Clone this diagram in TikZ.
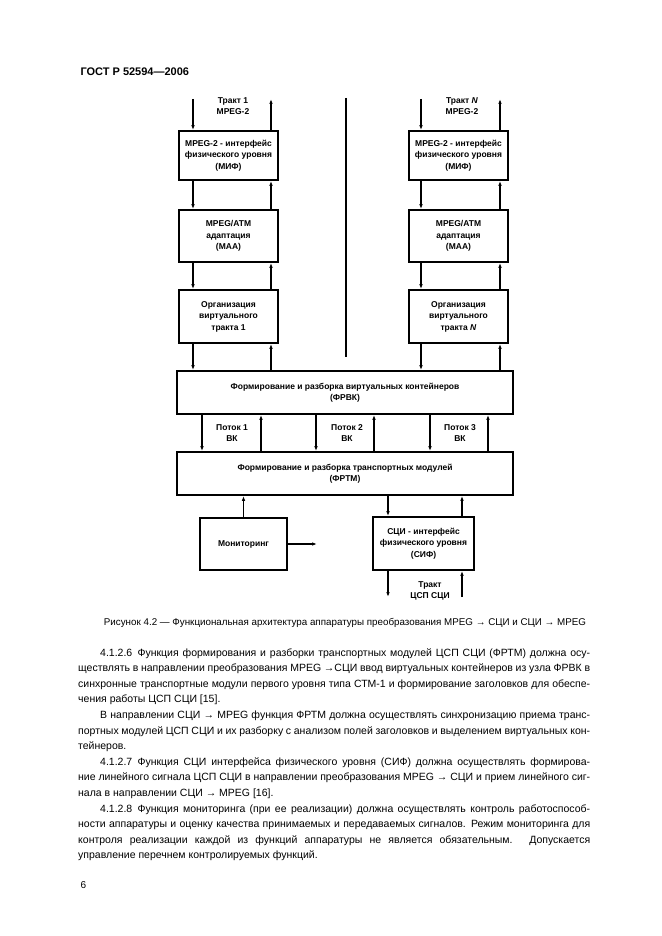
\documentclass[tikz,border=0pt]{standalone}
\usepackage{fontspec}
\setmainfont{Liberation Sans}
\usetikzlibrary{arrows.meta}

\tikzset{
  blok/.style={draw, line width=1.8pt, align=center, inner sep=1pt,
    font=\fontsize{8.5}{11.5}\selectfont\bfseries},
  arr/.style={line width=1.1pt, -{Latex[length=5pt,width=3.6pt]}},
  lbl/.style={align=center, inner sep=0pt, font=\fontsize{8.5}{11}\selectfont\bfseries},
}

\begin{document}
\begin{tikzpicture}[x=1pt,y=-1pt]
\useasboundingbox[fill=white] (0,0) rectangle (661,936);

\node[anchor=west, font=\fontsize{11}{13}\selectfont\bfseries] (header) at (77,72) {ГОСТ Р 52594—2006};

% columns
\node[blok, minimum width=99pt, minimum height=49pt] (mifA) at (228.5,155.5) {MPEG-2 - интерфейс\\физического уровня\\(МИФ)};
\node[blok, minimum width=99pt, minimum height=52pt] (maaA) at (228.5,236) {MPEG/ATM\\адаптация\\(МАА)};
\node[blok, minimum width=99pt, minimum height=53pt] (orgA) at (228.5,316.5) {Организация\\виртуального\\тракта 1};
\node[blok, minimum width=99pt, minimum height=49pt] (mifN) at (458.5,155.5) {MPEG-2 - интерфейс\\физического уровня\\(МИФ)};
\node[blok, minimum width=99pt, minimum height=52pt] (maaN) at (458.5,236) {MPEG/ATM\\адаптация\\(МАА)};
\node[blok, minimum width=99pt, minimum height=53pt] (orgN) at (458.5,316.5) {Организация\\виртуального\\тракта \textit{N}};

\node[lbl] (traktA) at (233,106.5) {Тракт 1\\MPEG-2};
\node[lbl] (traktN) at (462,106.5) {Тракт \textit{N}\\MPEG-2};

\node[blok, minimum width=336pt, minimum height=43pt] (frvk) at (345,392.5) {Формирование и разборка виртуальных контейнеров\\(ФРВК)};
\node[blok, minimum width=336pt, minimum height=43pt] (frtm) at (345,473.5) {Формирование и разборка транспортных модулей\\(ФРТМ)};
\node[blok, minimum width=87pt, minimum height=52pt] (monitor) at (243.5,544) {Мониторинг};
\node[blok, minimum width=101pt, minimum height=53pt] (sif) at (423.5,543.5) {СЦИ - интерфейс\\физического уровня\\(СИФ)};

\coordinate (dA) at (193,0);
\coordinate (uA) at (271,0);
\coordinate (dN) at (421,0);
\coordinate (uN) at (500,0);
\coordinate (top) at (0,99);

\foreach \c in {A,N}{
  \draw[arr] (d\c |- top) -- (d\c |- mif\c.north);
  \draw[arr] (u\c |- mif\c.north) -- (u\c |- top);
  \draw[arr] (d\c |- mif\c.south) -- (d\c |- maa\c.north);
  \draw[arr] (u\c |- maa\c.north) -- (u\c |- mif\c.south);
  \draw[arr] (d\c |- maa\c.south) -- (d\c |- org\c.north);
  \draw[arr] (u\c |- org\c.north) -- (u\c |- maa\c.south);
  \draw[arr] (d\c |- org\c.south) -- (d\c |- frvk.north);
  \draw[arr] (u\c |- frvk.north) -- (u\c |- org\c.south);
}

\coordinate (midtop) at (346,98);
\coordinate (midbot) at (346,357);
\draw[line width=1.8pt] (midtop) -- (midbot);

% streams
\foreach \d/\u/\n/\k in {202/261/232/1, 316/374/347/2, 430/488/460/3}{
  \coordinate (pd\k) at (\d,0);
  \coordinate (pu\k) at (\u,0);
  \draw[arr] (pd\k |- frvk.south) -- (pd\k |- frtm.north);
  \draw[arr] (pu\k |- frtm.north) -- (pu\k |- frvk.south);
  \node[lbl] (potok\k) at (\n,433) {Поток \k\\ВК};
}

\coordinate (sd) at (388,0);
\coordinate (su) at (462,0);
\coordinate (bot) at (0,597);
\draw[arr] (monitor.north) -- (monitor.north |- frtm.south);
\draw[arr, line width=1.6pt] (sd |- frtm.south) -- (sd |- sif.north);
\draw[arr] (su |- sif.north) -- (su |- frtm.south);
\coordinate (monout) at (317,544);
\draw[arr, line width=1.6pt] (monitor.east) -- (monout);
\draw[arr] (sd |- sif.south) -- (sd |- bot);
\draw[arr] (su |- bot) -- (su |- sif.south);
\node[lbl] (traktS) at (430,591) {Тракт\\ЦСП СЦИ};

\node[font=\fontsize{9.8}{12}\selectfont] (podpis) at (345,623) {Рисунок 4.2 — Функциональная архитектура аппаратуры преобразования MPEG → СЦИ и СЦИ → MPEG};

\node[anchor=north west, text width=512pt, align=justify, inner sep=0pt,
  font=\fontsize{10.5}{15.6}\selectfont] (tekst) at (78,648) {%
\hspace*{22pt}4.1.2.6\enspace Функция формирования и разборки транспортных модулей ЦСП СЦИ (ФРТМ) должна осу-\linebreak
ществлять в направлении преобразования MPEG →СЦИ ввод виртуальных контейнеров из узла ФРВК в\linebreak
синхронные транспортные модули первого уровня типа СТМ-1 и формирование заголовков для обеспе-\linebreak
чения работы ЦСП СЦИ [15].\par
\hspace*{22pt}В направлении СЦИ → MPEG функция ФРТМ должна осуществлять синхронизацию приема транс-\linebreak
портных модулей ЦСП СЦИ и их разборку с анализом полей заголовков и выделением виртуальных кон-\linebreak
тейнеров.\par
\hspace*{22pt}4.1.2.7\enspace Функция СЦИ интерфейса физического уровня (СИФ) должна осуществлять формирова-\linebreak
ние линейного сигнала ЦСП СЦИ в направлении преобразования MPEG → СЦИ и прием линейного сиг-\linebreak
нала в направлении СЦИ → MPEG [16].\par
\hspace*{22pt}4.1.2.8\enspace Функция мониторинга (при ее реализации) должна осуществлять контроль работоспособ-\linebreak
ности аппаратуры и оценку качества принимаемых и передаваемых сигналов. Режим мониторинга для\linebreak
контроля реализации каждой из функций аппаратуры не является обязательным. Допускается\linebreak
управление перечнем контролируемых функций.};

\node[anchor=west, font=\fontsize{10}{12}\selectfont] (page) at (77,885) {6};
\end{tikzpicture}
\end{document}
